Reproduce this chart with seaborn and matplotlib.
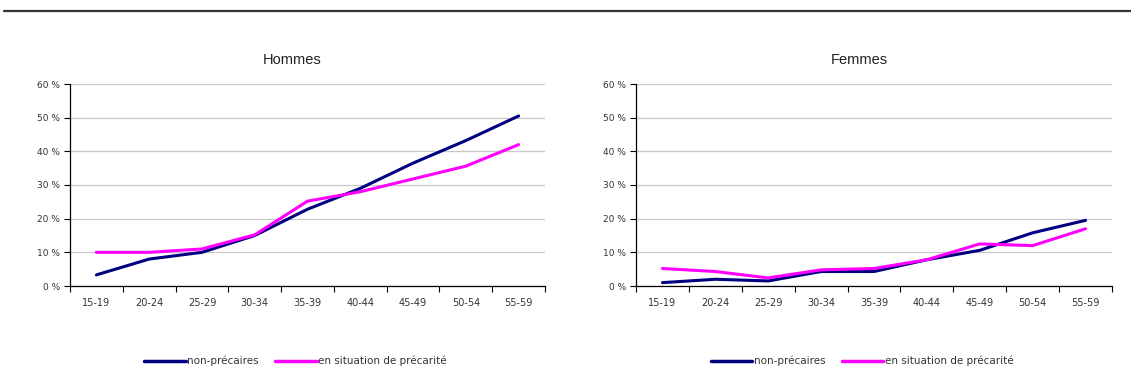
import matplotlib
matplotlib.use("Agg")
import matplotlib.pyplot as plt
import seaborn as sns
import pandas as pd
import numpy as np
from matplotlib.ticker import FixedLocator

ages = ["15-19", "20-24", "25-29", "30-34", "35-39", "40-44", "45-49", "50-54", "55-59"]
series_names = ["non-précaires", "en situation de précarité"]
hommes_non_precaires = [3.3, 8.0, 10.0, 15.0, 22.8, 29.0, 36.5, 43.2, 50.5]
hommes_precarite = [10.0, 10.0, 11.0, 15.2, 25.2, 28.0, 31.8, 35.6, 42.0]
femmes_non_precaires = [1.0, 2.0, 1.5, 4.3, 4.3, 7.8, 10.6, 15.8, 19.5]
femmes_precarite = [5.2, 4.3, 2.4, 4.8, 5.2, 7.8, 12.5, 12.0, 17.0]
panel_titles = ["Hommes", "Femmes"]
yticks = [0, 10, 20, 30, 40, 50, 60]

sns.set_theme(style="white")
plt.rcParams["font.family"] = ["DejaVu Sans"]

def long_df(a, b):
    return pd.DataFrame({
        "age": ages * 2,
        "val": a + b,
        "serie": [series_names[0]] * len(ages) + [series_names[1]] * len(ages),
    })

data = [long_df(hommes_non_precaires, hommes_precarite),
        long_df(femmes_non_precaires, femmes_precarite)]

fig = plt.figure(figsize=(11.31, 3.78), dpi=100)
W, H = 1131, 378
positions = [(70, 545), (636, 1112)]
palette = {series_names[0]: "#000080", series_names[1]: "#FF00FF"}

# top rule
fig.add_artist(plt.Line2D([4 / W, 1.0], [1 - 11 / H, 1 - 11 / H], color="#333333", lw=1.6))

for i, (df, (x0, x1)) in enumerate(zip(data, positions)):
    ax = fig.add_axes([x0 / W, 1 - 286 / H, (x1 - x0) / W, (286 - 84) / H])
    sns.lineplot(data=df, x="age", y="val", hue="serie", palette=palette,
                 linewidth=2.2, ax=ax, legend=False, sort=False)
    ax.set_xlim(-0.5, len(ages) - 0.5)
    ax.set_ylim(0, 60)
    ax.set_yticks(yticks)
    ax.set_yticklabels([f"{v} %" for v in yticks])
    ax.set_xticks(range(len(ages)))
    ax.set_xticklabels(ages)
    ax.xaxis.set_minor_locator(FixedLocator(np.arange(-0.5, len(ages), 1.0)))
    ax.tick_params(axis="x", which="major", length=0, pad=9, labelsize=7, colors="#333333")
    ax.tick_params(axis="x", which="minor", length=4, width=0.8, color="black", direction="out", bottom=True)
    ax.tick_params(axis="y", which="major", length=4, width=0.8, color="black", direction="out", left=True,
                   labelsize=6.5, labelcolor="#333333", pad=3)
    ax.grid(axis="y", color="#c8c8c8", lw=0.9)
    ax.set_axisbelow(True)
    for s in ["top", "right"]:
        ax.spines[s].set_visible(False)
    for s in ["left", "bottom"]:
        ax.spines[s].set_color("black")
        ax.spines[s].set_linewidth(0.9)
    ax.set_xlabel("")
    ax.set_ylabel("")
    fig.text((x0 + x1) / 2 / W - 15 / W, 1 - 60 / H, panel_titles[i], ha="center", va="center",
             fontsize=10.5, family="Liberation Sans", color="#222222")
    handles = [plt.Line2D([], [], color=palette[n], lw=2.5) for n in series_names]
    fig.legend(handles, series_names, loc="center", ncol=2, frameon=False,
               bbox_to_anchor=(((x0 + x1) / 2 - 12) / W, 1 - 361 / H), fontsize=7.5,
               handlelength=4.0, handletextpad=0.1, columnspacing=1.6,
               labelcolor="#333333")

fig.savefig("out.png", dpi=100)
